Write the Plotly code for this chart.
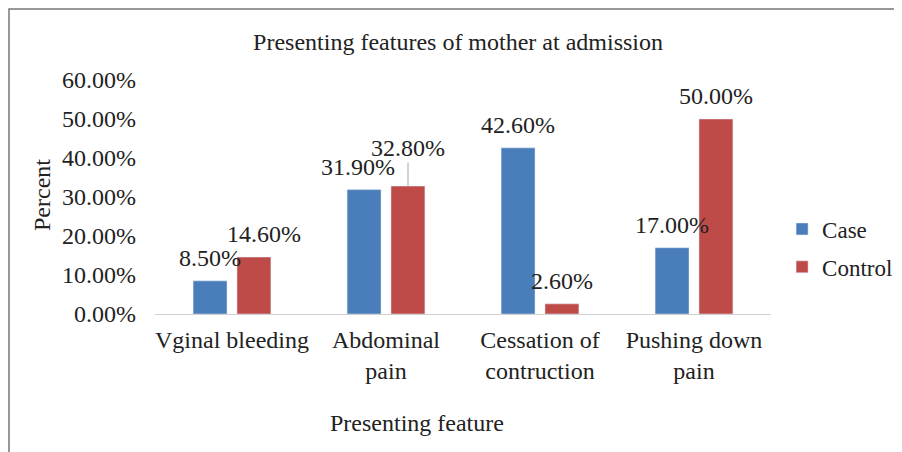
import plotly.graph_objects as go

# data
categories = ["Vginal bleeding", "Abdominal<br>pain", "Cessation of<br>contruction", "Pushing down<br>pain"]
case_values = [8.5, 31.9, 42.6, 17.0]
control_values = [14.6, 32.8, 2.6, 50.0]
y_ticks = [0, 10, 20, 30, 40, 50, 60]

BLUE = "#4A7EBB"
RED = "#BE4B48"
FONT = "Liberation Serif"
FS = 24
TXT = dict(family=FONT, size=FS, color="#222")

# page has an 8px body margin, so work in reference pixels minus 8
OFF = 8
L, T, PW, PH = 155 - OFF, 80 - OFF, 616, 234

fig = go.Figure()
fig.add_trace(go.Bar(x=categories, y=case_values, name="Case",
                     marker_color=BLUE, legendgroup="a"))
fig.add_trace(go.Bar(x=categories, y=control_values, name="Control",
                     marker_color=RED, legendgroup="b"))

# data labels above the bars (Excel-style, some nudged sideways)
for i, cat in enumerate(categories):
    for vals, shift in ((case_values, -22), (control_values, 22)):
        v = vals[i]
        if cat.startswith("Abdominal") and vals is control_values:
            # this one has a leader line
            fig.add_annotation(x=cat, y=v, xref="x", yref="y", text=f"{v:.2f}%",
                               xshift=shift, showarrow=True, arrowhead=0,
                               arrowcolor="#A6A6A6", arrowwidth=1,
                               ax=0, ay=-38, font=TXT)
        else:
            nudge = 0
            if cat.startswith("Abdominal"):
                nudge = -6
            elif cat.startswith("Vginal") and vals is control_values:
                nudge = 10
            fig.add_annotation(x=cat, y=v, xref="x", yref="y", text=f"{v:.2f}%",
                               xshift=shift + nudge, yshift=8, yanchor="bottom",
                               showarrow=False, font=TXT)

fig.update_layout(
    width=902, height=452,
    margin=dict(l=L, r=902 - L - PW, t=T, b=452 - T - PH, autoexpand=False),
    paper_bgcolor="white", plot_bgcolor="white",
    font=TXT,
    barmode="group", bargap=0.43, bargroupgap=0.227,
    title=dict(text="Presenting features of mother at admission",
               x=0.492, xref="paper", y=1 - (42 - OFF) / 452, yref="container",
               yanchor="middle", xanchor="center", font=TXT),
    showlegend=True,
    legend=dict(x=1.018, y=0.282, xanchor="left", yanchor="middle",
                traceorder="grouped", tracegroupgap=5,
                font=dict(family=FONT, size=23, color="#222")),
    xaxis=dict(showline=True, linecolor="#D0D0D0", linewidth=1, ticks="",
               showgrid=False, ticklabelstandoff=4, tickfont=TXT, automargin=False),
    yaxis=dict(range=[0, 60], tickvals=y_ticks,
               ticktext=[f"{t:.2f}%" for t in y_ticks],
               showgrid=False, showline=False, zeroline=False, ticks="",
               ticklabelstandoff=18, tickfont=TXT, automargin=False),
)

fig.add_annotation(text="Percent", textangle=-90, xref="paper", yref="paper",
                   x=(42 - 155) / 616, y=(314 - 195) / 234, showarrow=False,
                   xanchor="center", yanchor="middle", font=TXT)
fig.add_annotation(text="Presenting feature", xref="paper", yref="paper",
                   x=(417 - 155) / 616, y=(314 - 423) / 234, showarrow=False,
                   xanchor="center", yanchor="middle", font=TXT)

# outer frame of the chart (cropped on the right and bottom)
fig.add_shape(type="rect", xref="paper", yref="paper",
              x0=-(L - 1) / PW, x1=1.5, y0=-1.0, y1=(314 - 9) / 234,
              line=dict(color="#777777", width=1.5), layer="below")

fig.write_html("out.html")
